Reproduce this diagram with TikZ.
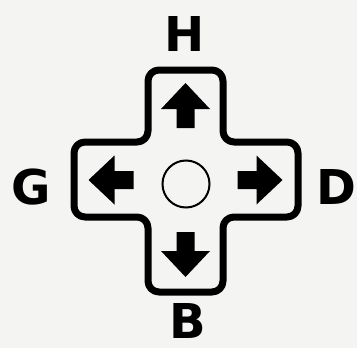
\documentclass[tikz,border=0pt]{standalone}
\usepackage{fontspec}
\setsansfont{DejaVu Sans}
\usepackage{tikz}
\usetikzlibrary{calc}

\definecolor{paper}{HTML}{F4F4F2}

\begin{document}
\begin{tikzpicture}[
  x=1pt, y=-1pt,
  every node/.style={font=\sffamily\bfseries\fontsize{48}{48}\selectfont, inner sep=0pt},
  padline/.style={line width=7pt, rounded corners=11pt, line join=round},
  padarrow/.style={fill=black, draw=none},
  centerring/.style={line width=2pt}
]
  % Background and frame
  \fill[paper] (0,0) rectangle (357,348);
  \useasboundingbox (0,0) rectangle (357,348);

  % Cross-shaped pad
  \coordinate (mid) at (185.5,180);
  \draw[padline] (148,70) -- (223,70) -- (223,142) -- (298,142) -- (298,217)
    -- (223,217) -- (223,292) -- (148,292) -- (148,217) -- (74,217)
    -- (74,142) -- (148,142) -- cycle;

  % Direction arrows
  \foreach \ang in {0,90,180,270} {
    \fill[padarrow, rotate around={\ang:(mid)}]
      ($(mid)+(0,-97)$) -- ($(mid)+(24.5,-71)$) -- ($(mid)+(9,-71)$)
      -- ($(mid)+(9,-52)$) -- ($(mid)+(-9,-52)$) -- ($(mid)+(-9,-71)$)
      -- ($(mid)+(-24.5,-71)$) -- cycle;
  }
  \draw[centerring] (186,184) circle (23.5);

  % Labels
  \node (haut) at (185,34) {H};
  \node (gauche) at (31,187) {G};
  \node (droite) at (336,187) {D};
  \node (bas) at (188,321) {B};
\end{tikzpicture}
\end{document}
